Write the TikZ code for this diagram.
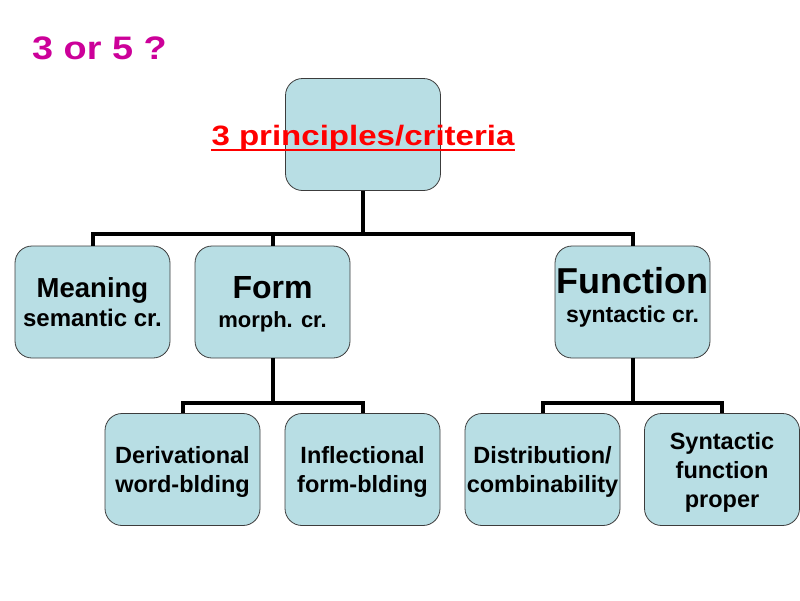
\documentclass[tikz,border=0pt]{standalone}
\usepackage{fontspec}
\setmainfont{Liberation Sans}
\definecolor{boxblue}{RGB}{184,222,228}
\definecolor{boxline}{RGB}{60,60,60}
\definecolor{askpink}{RGB}{204,0,153}
\tikzset{
  crit/.style={draw=boxline, fill=boxblue, line width=0.8pt, rounded corners=17pt,
    minimum width=155pt, minimum height=112pt, inner sep=0pt, align=center,
    text depth=-5pt, font=\bfseries\fontsize{23.5}{29}\selectfont},
  link/.style={line width=4pt, line join=miter},
}
\begin{document}
\begin{tikzpicture}[x=1pt, y=-1pt]
  \useasboundingbox (0,0) rectangle (800,600);
  % heading
  \node [askpink, anchor=base west, inner sep=0pt, font=\bfseries\fontsize{31}{36}\selectfont]
    (question) at (32,59) {\scalebox{1.22}[1.05]{3 or 5 ?}};
  % root
  \node [crit] (criteria) at (363,134.5) {};
  \node [red, anchor=base, inner sep=0pt, font=\bfseries\fontsize{28}{32}\selectfont]
    (principles) at (363,145) {\scalebox{1.18}[1]{3 principles/criteria}};
  \draw [red, line width=2.5pt] ([yshift=-5pt]principles.base west) -- ([yshift=-5pt]principles.base east);
  % second row
  \node [crit, text depth=-7pt] (meaning) at (92.5,302) {{\fontsize{27.5}{29}\selectfont Meaning}\\{\fontsize{24}{31}\selectfont semantic cr.}};
  \node [crit, text depth=-3.5pt] (form) at (272.5,302) {{\fontsize{32}{29}\selectfont Form}\\{\fontsize{22}{31}\selectfont morph. cr.}};
  \node [crit, text depth=15pt] (function) at (632.5,302) {{\fontsize{36}{29}\selectfont Function}\\{\fontsize{23}{31}\selectfont syntactic cr.}};
  % third row
  \node [crit] (deriv) at (182.5,469.5) {Derivational\\word-blding};
  \node [crit] (infl) at (362.5,469.5) {Inflectional\\form-blding};
  \node [crit] (distr) at (542.5,469.5) {Distribution/\\combinability};
  \node [crit, text depth=-3pt] (synt) at (722,469.5) {Syntactic\\function\\proper};
  % tree lines
  \coordinate (upper) at (363,234);
  \draw [link] (criteria.south) -- (upper);
  \draw [link] (meaning.north) |- (upper) -| (function.north);
  \draw [link] (form.north |- upper) -- (form.north);
  \path (form.south) ++(0,45) coordinate (formjoin);
  \draw [link] (form.south) -- (formjoin);
  \draw [link] (deriv.north) |- (formjoin) -| (infl.north);
  \path (function.south) ++(0,45) coordinate (funcjoin);
  \draw [link] (function.south) -- (funcjoin);
  \draw [link] (distr.north) |- (funcjoin) -| (synt.north);
\end{tikzpicture}
\end{document}
